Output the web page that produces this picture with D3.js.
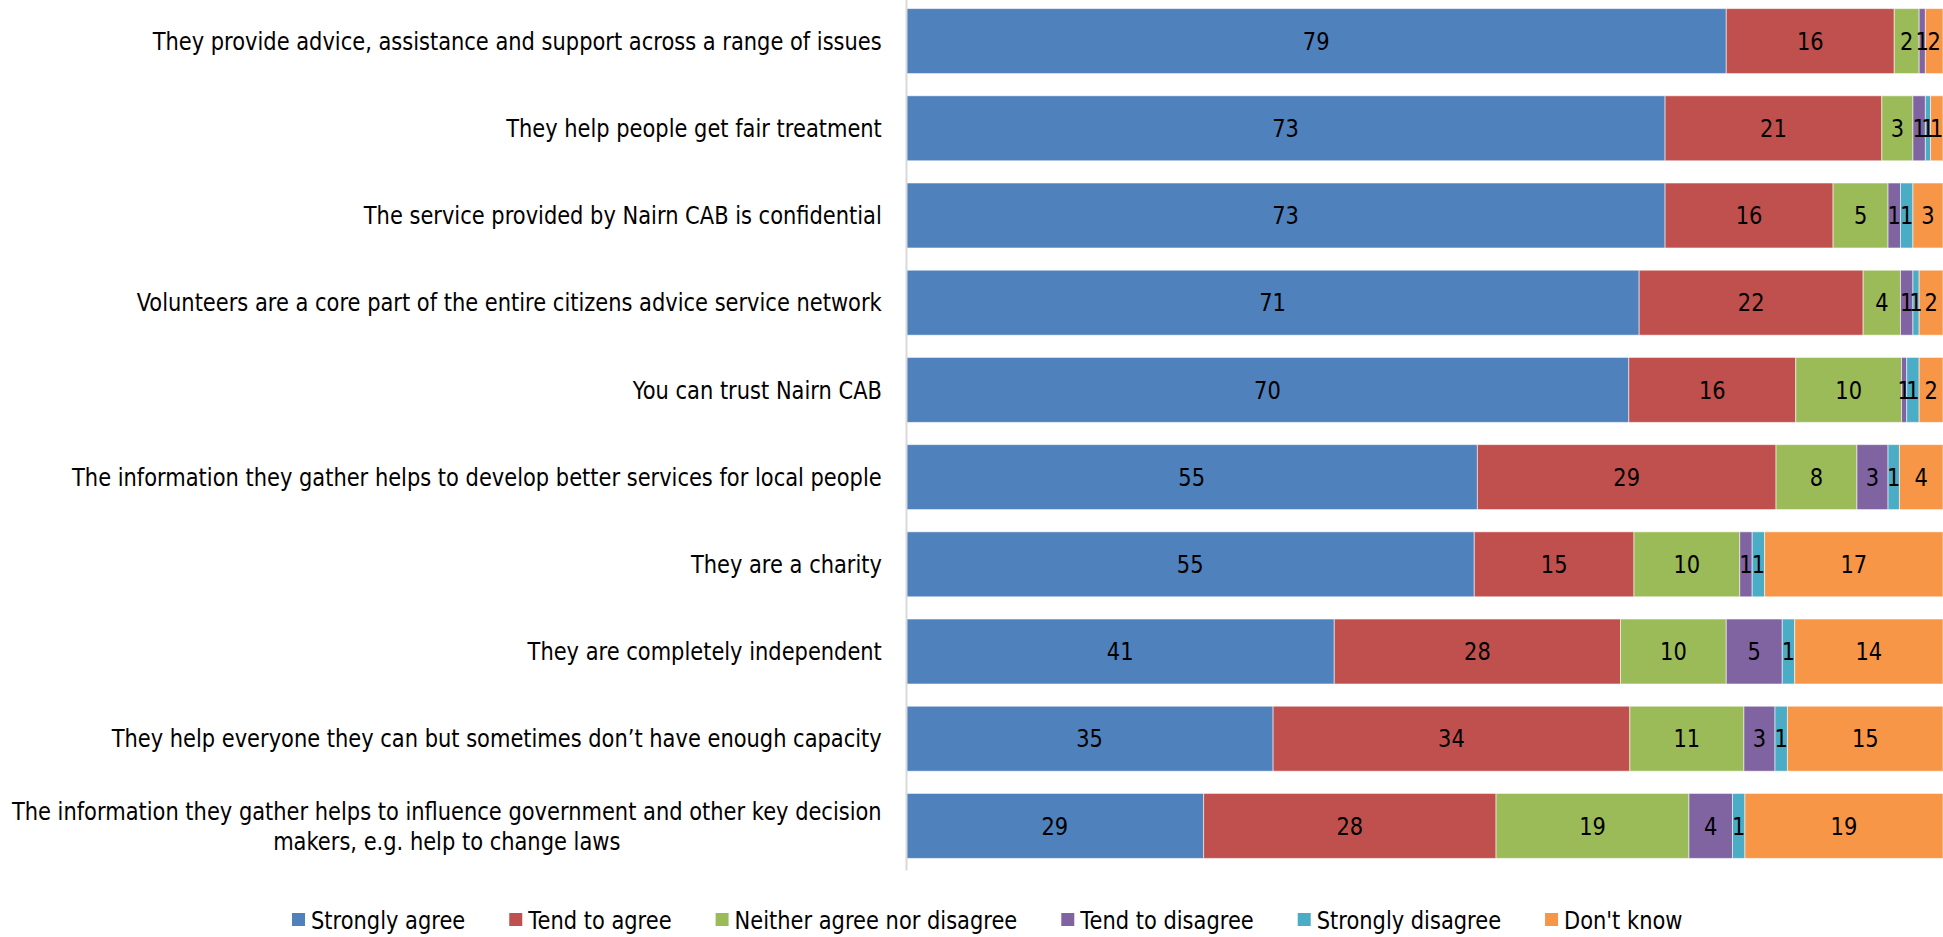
<!DOCTYPE html>
<html>
<head>
<meta charset="utf-8">
<script src="https://cdn.jsdelivr.net/npm/d3@7"></script>
<style>
  html, body { margin: 0; padding: 0; background: #fff; }
  svg { display: block; }
  text { font-family: "DejaVu Sans", sans-serif; font-size: 24px; fill: #000; }
</style>
</head>
<body>
<svg id="chart" width="1943" height="937"></svg>
<script>
// ---- Data (percent of respondents; labels show rounded values) ----
const categories = [
  "They provide advice, assistance and support across a range of issues",
  "They help people get fair treatment",
  "The service provided by Nairn CAB is confidential",
  "Volunteers are a core part of the entire citizens advice service network",
  "You can trust Nairn CAB",
  "The information they gather helps to develop better services for local people",
  "They are a charity",
  "They are completely independent",
  "They help everyone they can but sometimes don\u2019t have enough capacity",
  "The information they gather helps to influence government and other key decision makers, e.g. help to change laws"
];
const seriesNames = ["Strongly agree", "Tend to agree", "Neither agree nor disagree", "Tend to disagree", "Strongly disagree", "Don't know"];
const stronglyAgree    = [79.1, 73.2, 73.2, 70.7, 69.7, 55.1, 54.8, 41.3, 35.4, 28.7];
const tendToAgree      = [16.2, 20.9, 16.2, 21.6, 16.1, 28.8, 15.4, 27.6, 34.4, 28.2];
const neither          = [2.4, 3.0, 5.3, 3.6, 10.2, 7.8, 10.2, 10.2, 11.0, 18.6];
const tendToDisagree   = [0.6, 1.2, 1.2, 1.2, 0.5, 3.0, 1.2, 5.4, 3.0, 4.2];
const stronglyDisagree = [0, 0.5, 1.2, 0.6, 1.2, 1.1, 1.2, 1.2, 1.2, 1.2];
const dontKnow         = [1.7, 1.2, 2.9, 2.3, 2.3, 4.2, 17.2, 14.3, 15.0, 19.1];
const colors = ["#4F81BD", "#C0504D", "#9BBB59", "#8064A2", "#4BACC6", "#F79646"];

const seriesValues = [stronglyAgree, tendToAgree, neither, tendToDisagree, stronglyDisagree, dontKnow];
const table = categories.map((c, i) => {
  const row = { category: c };
  seriesNames.forEach((s, j) => row[s] = seriesValues[j][i]);
  return row;
});

// ---- Layout ----
const SX = 0.875; // horizontal text compression
const svg = d3.select("#chart");
const plotLeft = 906, plotRight = 1943;

const x = d3.scaleLinear().domain([0, 100]).range([plotLeft, plotRight]);
const y = d3.scaleBand().domain(categories).range([-3, 870]).paddingInner(0.255).paddingOuter(0.133);
const color = d3.scaleOrdinal().domain(seriesNames).range(colors);

const stacked = d3.stack().keys(seriesNames)(table);

// bars
const layers = svg.append("g").selectAll("g").data(stacked).join("g")
  .attr("fill", d => color(d.key));
layers.selectAll("rect").data(d => d.filter(e => e[1] > e[0])).join("rect")
  .attr("x", d => x(d[0]))
  .attr("y", d => y(d.data.category))
  .attr("width", d => x(d[1]) - x(d[0]))
  .attr("height", y.bandwidth())
  .attr("stroke", "#ffffff")
  .attr("stroke-opacity", 0.55)
  .attr("stroke-width", 1);

// value labels
stacked.forEach(layer => {
  svg.append("g").selectAll("text").data(layer.filter(d => d.data[layer.key] > 0)).join("text")
    .attr("transform", d => `translate(${(x(d[0]) + x(d[1])) / 2},${y(d.data.category) + y.bandwidth() / 2}) scale(${SX},1)`)
    .attr("text-anchor", "middle")
    .attr("dy", "0.36em")
    .text(d => Math.round(d.data[layer.key]));
});

// axis line
const axis = svg.append("g").attr("transform", `translate(${plotLeft},0)`)
  .call(d3.axisLeft(y).tickSize(0).tickSizeOuter(0).tickFormat(""));
axis.select(".domain").attr("stroke", "#d9d9d9").attr("stroke-width", 2);
axis.selectAll(".tick").remove();

// category labels (right aligned block, centered lines, wrapped)
const labelRight = 882, maxLabelW = 885, lineH = 30;
const labelG = svg.append("g");
categories.forEach(c => {
  const words = c.split(" ");
  const probe = labelG.append("text");
  const measure = s => { probe.text(s); return probe.node().getComputedTextLength() * SX; };
  const lines = [];
  let cur = "";
  words.forEach(w => {
    const t = cur ? cur + " " + w : w;
    if (cur && measure(t) > maxLabelW) { lines.push(cur); cur = w; } else cur = t;
  });
  lines.push(cur);
  const blockW = d3.max(lines, l => measure(l));
  probe.remove();
  const cx = labelRight - blockW / 2;
  const cy = y(c) + y.bandwidth() / 2;
  lines.forEach((l, i) => {
    labelG.append("text")
      .attr("transform", `translate(${cx},${cy + (i - (lines.length - 1) / 2) * lineH}) scale(${SX},1)`)
      .attr("text-anchor", "middle")
      .attr("dy", "0.36em")
      .text(l);
  });
});

// legend
const legend = svg.append("g");
let lx = 292;
const ly = 920;
seriesNames.forEach((s, i) => {
  legend.append("rect").attr("x", lx).attr("y", ly - 7).attr("width", 13).attr("height", 13).attr("fill", colors[i]);
  const t = legend.append("text")
    .attr("transform", `translate(${lx + 19},${ly}) scale(${SX},1)`)
    .attr("dy", "0.36em")
    .text(s);
  lx += 19 + t.node().getComputedTextLength() * SX + 44;
});
</script>
</body>
</html>
